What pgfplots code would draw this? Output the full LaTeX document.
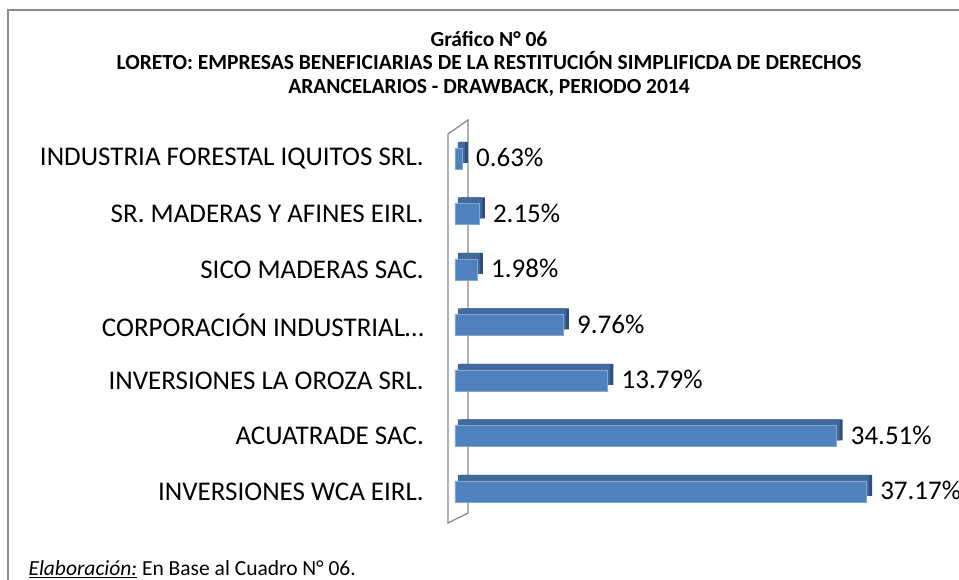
\documentclass[border=0pt]{standalone}
\usepackage{fontspec}
\setmainfont{Carlito}
\usepackage{pgfplots}
\usepackage{pgfplotstable}
\pgfplotsset{compat=1.18}
\definecolor{barfront}{HTML}{4F81BD}
\definecolor{bartop}{HTML}{42699C}
\definecolor{barside}{HTML}{2F4F7B}
\definecolor{framegray}{HTML}{8C8C8C}
\definecolor{wallgray}{HTML}{8A8A8A}
\pgfplotstableread{
y x label
0 37.17 37.17\%
1 34.51 34.51\%
2 13.79 13.79\%
3 9.76 9.76\%
4 1.98 1.98\%
5 2.15 2.15\%
6 0.63 0.63\%
}\datatable
\begin{document}
\begin{tikzpicture}[x=1pt,y=1pt]
\useasboundingbox (0,0) rectangle (959,580);
\clip (0,0) rectangle (959,580);
\draw[framegray, line width=1.5pt] (8,-20) -- (8,570) -- (990,570);
\node[font=\fontsize{21.5}{23}\selectfont\bfseries, anchor=base] at (489,533) {Gráfico N° 06};
\node[font=\fontsize{21.5}{23}\selectfont\bfseries, anchor=base] at (489,510) {LORETO: EMPRESAS BENEFICIARIAS DE LA RESTITUCIÓN SIMPLIFICDA DE DERECHOS};
\node[font=\fontsize{21.5}{23}\selectfont\bfseries, anchor=base] at (489,486) {ARANCELARIOS - DRAWBACK, PERIODO 2014};
\draw[wallgray, line width=1.3pt, fill=white] (448,446) -- (468,460) -- (468,67) -- (448,57) -- cycle;
\coordinate (A) at (455pt,60.75pt);
\begin{axis}[at={(A)}, anchor=south west, scale only axis,
  width=442.3pt, height=388.5pt,
  xmin=0, xmax=40, ymin=-0.5, ymax=6.5,
  hide x axis, y axis line style={draw=none},
  ytick={0,...,6},
  yticklabels={INVERSIONES WCA EIRL., ACUATRADE SAC., INVERSIONES LA OROZA SRL., CORPORACIÓN INDUSTRIAL…, SICO MADERAS SAC., SR. MADERAS Y AFINES EIRL., INDUSTRIA FORESTAL IQUITOS SRL.},
  major tick length=0pt,
  yticklabel style={font=\fontsize{27}{29}\selectfont, inner sep=0pt, anchor=east, xshift=-31pt},
  clip=false]
\addplot[xbar, bar shift=0pt, bar width=21pt, fill=barside, draw=none, xshift=6pt, yshift=6pt] table[x=x, y=y] {\datatable};
\addplot[xbar, bar shift=0pt, bar width=21pt, fill=bartop, draw=none, xshift=3pt, yshift=6pt] table[x=x, y=y] {\datatable};
\addplot[xbar, bar shift=0pt, bar width=21pt, fill=barfront, draw=barfront!70!white, line width=0.5pt,
  nodes near coords, point meta=explicit symbolic,
  every node near coord/.append style={anchor=west, font=\fontsize{27}{29}\selectfont, inner sep=0pt, xshift=14pt, yshift=1pt, text=black}]
  table[x=x, y=y, meta=label] {\datatable};
\end{axis}
\node[anchor=base west, font=\fontsize{21.5}{23}\selectfont] at (25,4) {\underline{\textit{Elaboración:}} En Base al Cuadro N° 06.};
\end{tikzpicture}
\end{document}
